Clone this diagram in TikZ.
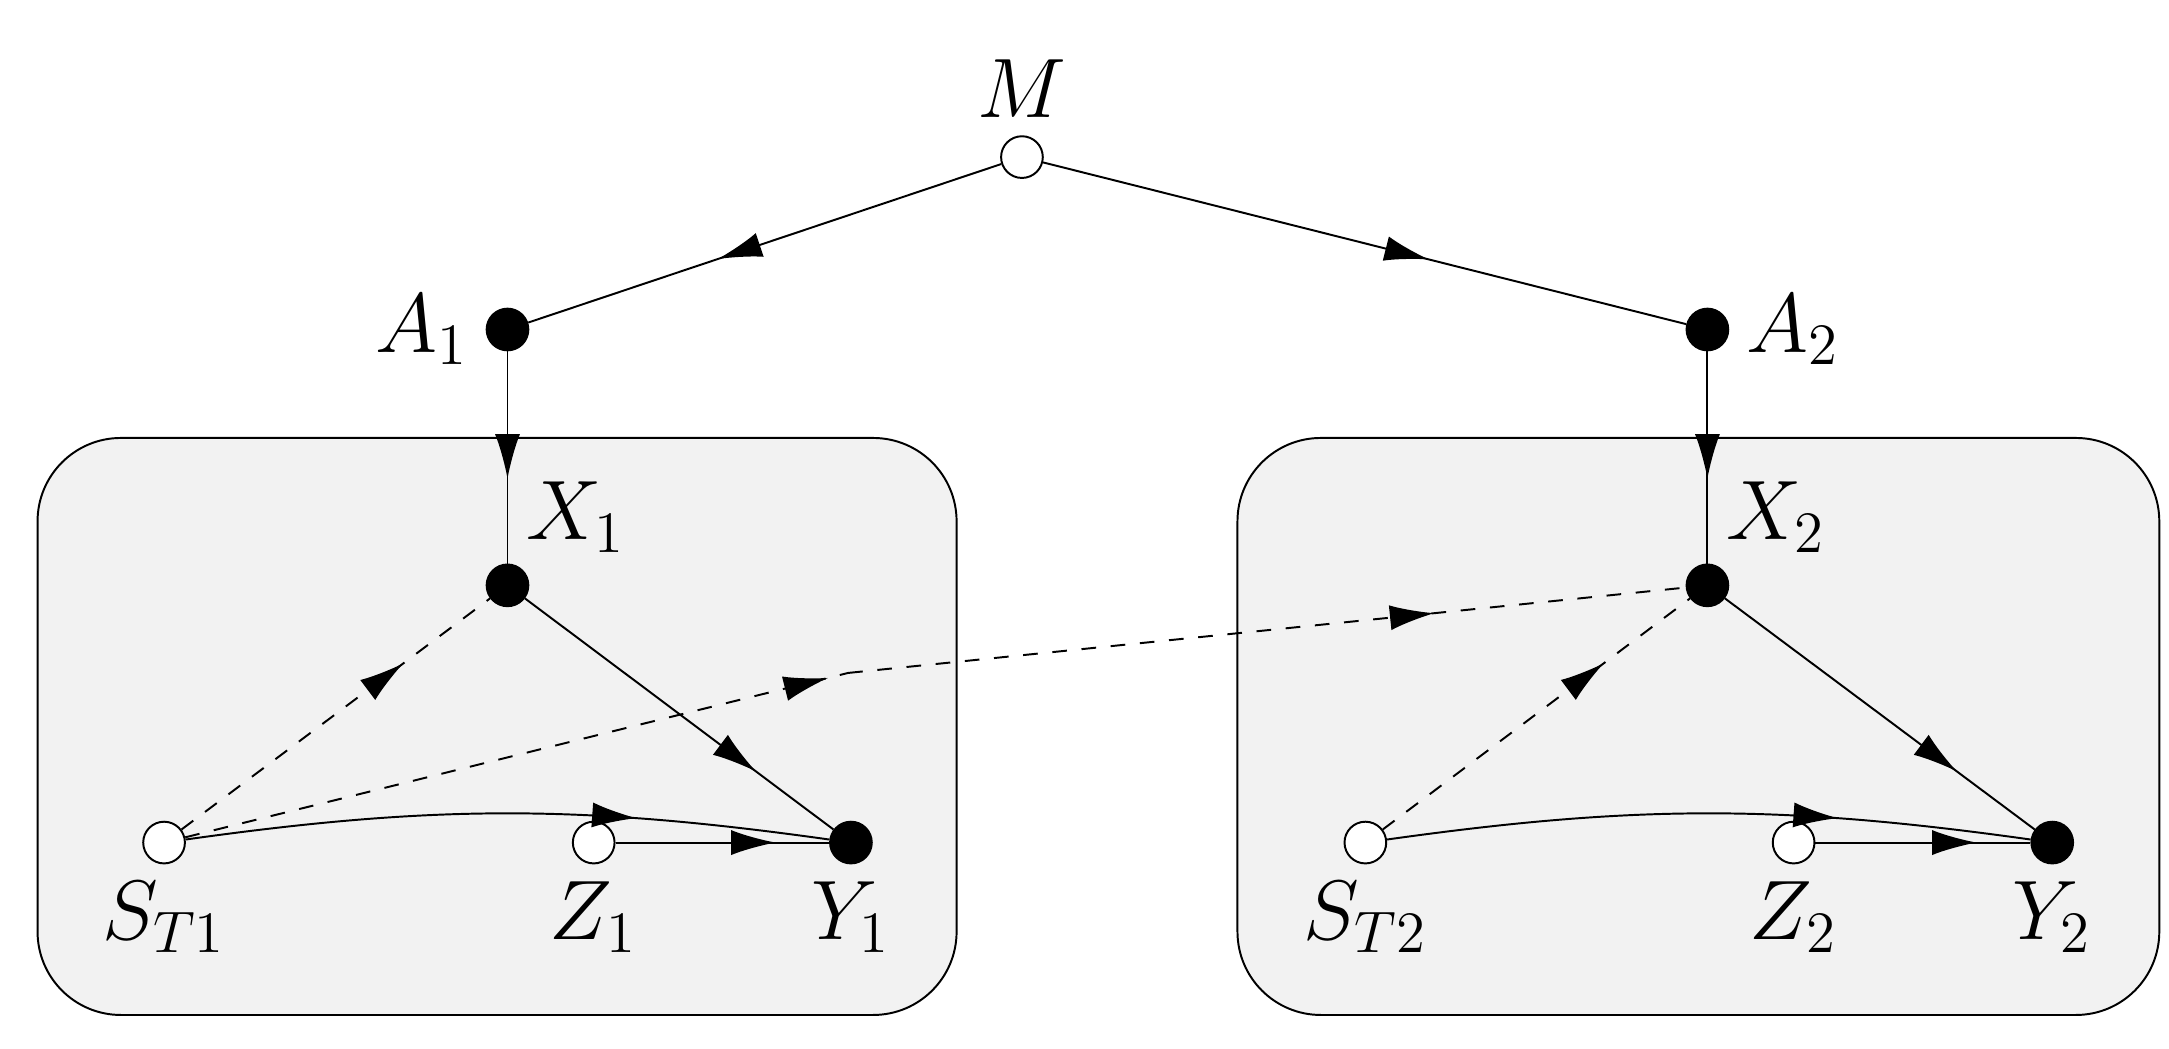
\documentclass[tikz,border=0pt]{standalone}
\usetikzlibrary{decorations.markings,arrows.meta}
\begin{document}
\begin{tikzpicture}[
        open/.style={circle,draw,fill=white,inner sep=0pt,minimum size=0.3cm},
        full/.style={circle,draw,fill=black,inner sep=0pt,minimum size=0.3cm},
        unit/.style={draw,fill=gray!10,rounded corners=0.6cm},
        mid/.style={postaction={decorate},decoration={markings,
            mark=at position #1 with {\arrow{Latex[length=3.2mm,width=1.8mm]}}}},
        mid/.default=0.6,
        every label/.style={font=\LARGE}
    ]
    \useasboundingbox (0,0) rectangle (15.6,7.54);
    \draw[unit] (0.27,0.24) rectangle (6.88,4.39);
    \draw[unit] (8.90,0.24) rectangle (15.53,4.39);
    \node[open,label=above:$M$] (m) at (7.35,6.41) {};
    \node[full,label=left:$A_1$] (a1) at (3.65,5.17) {};
    \node[full,label=right:$A_2$] (a2) at (12.28,5.17) {};
    \node[full,label={[xshift=-1mm]above right:$X_1$}] (x1) at (3.65,3.33) {};
    \node[full,label={[xshift=-1mm]above right:$X_2$}] (x2) at (12.28,3.33) {};
    \node[open,label=below:$S_{T1}$] (s1) at (1.18,1.48) {};
    \node[open,label=below:$Z_1$] (z1) at (4.27,1.48) {};
    \node[full,label=below:$Y_1$] (y1) at (6.12,1.48) {};
    \node[open,label=below:$S_{T2}$] (s2) at (9.82,1.48) {};
    \node[open,label=below:$Z_2$] (z2) at (12.90,1.48) {};
    \node[full,label=below:$Y_2$] (y2) at (14.76,1.48) {};
    \coordinate (bend) at (6.10,2.70);
    % top level
    \draw[mid=0.6] (m) -- (a1);
    \draw[mid=0.6] (m) -- (a2);
    \draw[mid=0.6] (a1) -- (x1);
    \draw[mid=0.6] (a2) -- (x2);
    % units
    \foreach \i in {1,2} {
        \draw[mid=0.75] (x\i) -- (y\i);
        \draw[dashed,mid=0.72] (s\i) -- (x\i);
        \draw[mid=0.7] (s\i) to[bend left=8] (y\i);
        \draw[mid=0.75] (z\i) -- (y\i);
    }
    \draw[dashed,mid=0.97] (s1) -- (bend);
    \draw[dashed,mid=0.7] (bend) -- (x2);
\end{tikzpicture}
\end{document}
